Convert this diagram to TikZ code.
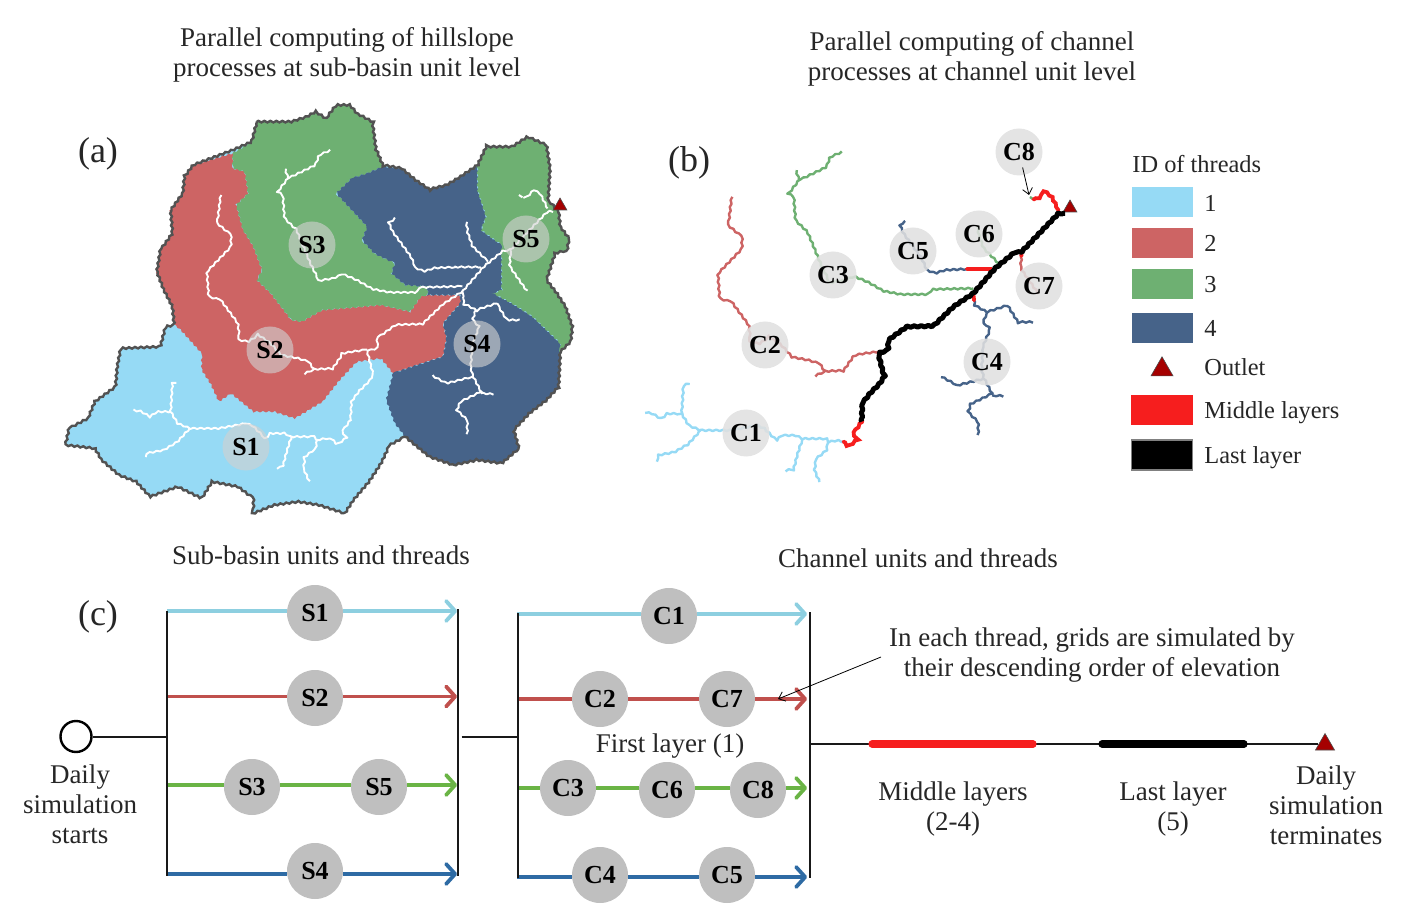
\documentclass[tikz,border=0pt]{standalone}
\usepackage{fontspec}
\setmainfont{Liberation Serif}
\usepackage{tikz}
\usetikzlibrary{shapes.geometric, arrows.meta, decorations.pathmorphing}
\definecolor{threadblue}{HTML}{96DAF5}
\definecolor{threadred}{HTML}{CD6464}
\definecolor{threadgreen}{HTML}{6EB072}
\definecolor{threadnavy}{HTML}{466389}
\definecolor{lineblue}{HTML}{8DCFE0}
\definecolor{linered}{HTML}{C0504D}
\definecolor{linegreen}{HTML}{6AB445}
\definecolor{linenavy}{HTML}{2E6BA4}
\definecolor{layerred}{HTML}{F61E1E}
\definecolor{outletred}{HTML}{A50000}
\tikzstyle{caption} = [font=\fontsize{13.5}{15}\selectfont, align=center, text=black!85]
\tikzstyle{keytext} = [font=\fontsize{12.2}{15}\selectfont, anchor=west, inner sep=0pt, text=black!85]
\tikzstyle{panel} = [font=\fontsize{18}{20}\selectfont, text=black!85]
\tikzstyle{swatch} = [minimum width=30.5pt, minimum height=15pt, inner sep=0pt]
\tikzstyle{mapunit} = [circle, minimum size=23.5pt, inner sep=0pt, fill=black!18, fill opacity=.62, text opacity=1, font=\fontsize{13}{15}\selectfont\bfseries]
\tikzstyle{chanunit} = [circle, minimum size=23.5pt, inner sep=0pt, fill=black!12, fill opacity=.88, text opacity=1, font=\fontsize{13}{15}\selectfont\bfseries]
\tikzstyle{unit} = [circle, minimum size=28pt, inner sep=0pt, fill=black!25, font=\fontsize{13}{15}\selectfont\bfseries]
\tikzstyle{outlet} = [regular polygon, regular polygon sides=3, inner sep=0pt, fill=outletred, draw=black!70, line width=.3pt]
\tikzstyle{thread} = [line width=1.9pt, -{Straight Barb[length=4.5pt,width=10pt,round]}]
\tikzstyle{bar} = [line width=1pt, black!90]
\tikzstyle{pointer} = [line width=.4pt, -{Straight Barb[length=3pt,width=5pt]}]
\tikzstyle{basin} = [x=.17241pt, y=-.16667pt]
\tikzstyle{rough} = [decorate, decoration={zigzag, segment length=3pt, amplitude=.4pt}]
\tikzstyle{jagged} = [decorate, decoration={zigzag, segment length=3.5pt, amplitude=.35pt}]
\tikzstyle{river} = [line width=.95pt, line join=round, jagged]
\tikzstyle{chanriver} = [line width=1.2pt, line join=round, jagged]
\newcommand{\riverlow}{(819,1049) -- (833,1064) -- (858,1044) -- (848,1024) -- (872,989)}
\newcommand{\rivermain}{(872,989) -- (874,934) -- (896,904) -- (925,874) -- (937,854) -- (920,784) -- (949,774) -- (949,744) -- (1003,704) -- (1080,702) -- (1138,644) -- (1196,604) -- (1259,529) -- (1312,484) -- (1336,479) -- (1443,364) -- (1462,364)}
\newcommand{\rivertop}{(1443,355) -- (1423,314) -- (1404,299) -- (1385,319) -- (1370,322)}
\newcommand{\riverone}{(819,1049) -- (800,1045) -- (775,1050) -- (770,1040) -- (700,1040) -- (680,1030) -- (640,1030) -- (625,1045) -- (590,1010) -- (570,1000) -- (490,1015) -- (405,1015) -- (370,1000) -- (350,965) -- (355,880) -- (370,875)
    (350,965) -- (310,965) -- (290,980) -- (265,965) -- (240,960)
    (405,1015) -- (370,1055) -- (330,1080) -- (280,1090) -- (280,1105)
    (700,1040) -- (685,1090) -- (675,1130) -- (655,1135)
    (775,1050) -- (770,1075) -- (740,1100) -- (735,1135) -- (750,1170)}
\newcommand{\rivertwo}{(920,779) -- (875,785) -- (850,790) -- (820,835) -- (765,838) -- (750,815) -- (720,805) -- (670,795) -- (640,760) -- (605,735) -- (575,755) -- (550,750) -- (545,700) -- (495,630) -- (460,620) -- (455,545) -- (525,470) -- (525,435) -- (485,400) -- (495,315)
    (765,838) -- (740,850)}
\newcommand{\riverthree}{(1196,589) -- (1075,592) -- (1065,607) -- (985,607) -- (935,597) -- (890,570) -- (850,553) -- (820,565) -- (780,572) -- (755,520) -- (715,420) -- (680,385) -- (675,315) -- (660,305) -- (690,265) -- (770,225) -- (780,195) -- (815,180)
    (690,265) -- (682,235)}
\newcommand{\riverfour}{(1198,625) -- (1200,640) -- (1235,660) -- (1295,640) -- (1325,690) -- (1365,690)
    (1235,660) -- (1225,690) -- (1245,710) -- (1225,760) -- (1220,830) -- (1225,855) -- (1250,905) -- (1190,935) -- (1180,960) -- (1210,990) -- (1210,1030)
    (1225,860) -- (1150,880) -- (1105,855)
    (1250,910) -- (1285,912)}
\newcommand{\riverfive}{(1177,531) -- (1114,534) -- (1085,544) -- (1061,534) -- (1046,499) -- (993,424) -- (983,399) -- (998,387)}
\newcommand{\riversix}{(1270,515) -- (1225,468) -- (1212,430) -- (1208,400)}
\newcommand{\riverseven}{(1336,479) -- (1333,529) -- (1370,584) -- (1385,605)}
\newcommand{\riverlink}{(1370,322) -- (1360,315)}

\begin{document}
\begin{tikzpicture}[x=.5pt, y=-.5pt]
    \useasboundingbox (0,0) rectangle (1406,908);
    \node[caption] (titlea) at (347,55) {Parallel computing of hillslope\\processes at sub-basin unit level};
    \node[caption] (titleb) at (972,59) {Parallel computing of channel\\processes at channel unit level};
    \node[caption] (titlec) at (321,555) {Sub-basin units and threads};
    \node[caption] (titled) at (918,558) {Channel units and threads};
    \node[panel] (pa) at (98,154) {(a)};
    \node[panel] (pb) at (689,163) {(b)};
    \node[panel] (pc) at (98,617) {(c)};

    \begin{scope}[shift={(50,90)}, basin]
        \fill[threadblue, rough] (600,95) -- (660,95) -- (700,95) -- (745,80) -- (770,65) -- (800,85) -- (830,45) -- (870,45) -- (890,70) -- (935,95) -- (945,175) -- (965,225) -- (1020,235) -- (1060,270) -- (1100,298) -- (1150,285) -- (1190,260) -- (1240,225) -- (1265,170) -- (1340,170) -- (1385,140) -- (1440,165) -- (1450,235) -- (1445,330) -- (1475,365) -- (1480,410) -- (1505,445) -- (1500,480) -- (1465,490) -- (1440,570) -- (1470,610) -- (1495,650) -- (1515,710) -- (1510,755) -- (1480,785) -- (1475,890) -- (1440,930) -- (1390,970) -- (1345,1020) -- (1360,1075) -- (1310,1120) -- (1240,1110) -- (1170,1125) -- (1100,1100) -- (1030,1040) -- (985,1065) -- (960,1120) -- (925,1175) -- (880,1230) -- (855,1270) -- (780,1245) -- (720,1235) -- (650,1245) -- (590,1270) -- (590,1225) -- (545,1190) -- (470,1175) -- (440,1225) -- (370,1190) -- (290,1220) -- (250,1175) -- (200,1155) -- (150,1110) -- (130,1075) -- (45,1065) -- (55,1015) -- (110,985) -- (130,935) -- (190,890) -- (195,830) -- (205,775) -- (320,770) -- (335,710) -- (360,705) -- (355,650) -- (330,600) -- (310,545) -- (320,480) -- (355,430) -- (350,360) -- (385,310) -- (390,260) -- (415,225) -- (530,180) -- (585,155) -- cycle;
        \fill[threadred, rough] (530,190) -- (415,225) -- (390,260) -- (385,310) -- (350,360) -- (355,430) -- (320,480) -- (310,545) -- (330,600) -- (355,650) -- (360,705) -- (375,715) -- (440,790) -- (440,840) -- (465,880) -- (490,935) -- (525,910) -- (590,965) -- (650,965) -- (710,985) -- (790,935) -- (840,870) -- (890,815) -- (960,805) -- (995,850) -- (1050,830) -- (1140,800) -- (1150,745) -- (1140,700) -- (1190,640) -- (1190,615) -- (1095,615) -- (1075,620) -- (1045,665) -- (960,645) -- (850,655) -- (790,660) -- (730,695) -- (700,690) -- (640,610) -- (600,570) -- (615,540) -- (590,470) -- (560,420) -- (540,345) -- (575,310) -- (565,245) -- (530,235) -- cycle;
        \fill[threadgreen, rough] (530,190) -- (585,155) -- (600,95) -- (660,95) -- (700,95) -- (745,80) -- (770,65) -- (800,85) -- (830,45) -- (870,45) -- (890,70) -- (935,95) -- (945,175) -- (965,230) -- (920,250) -- (875,265) -- (830,310) -- (875,360) -- (920,410) -- (905,450) -- (940,490) -- (1000,520) -- (990,550) -- (1030,585) -- (1095,590) -- (1095,615) -- (1075,620) -- (1045,665) -- (960,645) -- (850,655) -- (790,660) -- (730,695) -- (700,690) -- (640,610) -- (600,570) -- (615,540) -- (590,470) -- (560,420) -- (540,345) -- (575,310) -- (565,245) -- (530,235) -- cycle;
        \fill[threadnavy, rough] (965,230) -- (1020,235) -- (1060,270) -- (1100,298) -- (1150,285) -- (1190,260) -- (1240,225) -- (1240,300) -- (1265,380) -- (1250,420) -- (1310,465) -- (1310,600) -- (1285,610) -- (1340,640) -- (1400,680) -- (1450,730) -- (1480,760) -- (1480,785) -- (1475,890) -- (1440,930) -- (1390,970) -- (1345,1020) -- (1360,1075) -- (1310,1120) -- (1240,1110) -- (1170,1125) -- (1100,1100) -- (1030,1040) -- (1000,1000) -- (975,930) -- (995,850) -- (1050,830) -- (1140,800) -- (1150,745) -- (1140,700) -- (1190,640) -- (1190,615) -- (1095,615) -- (1095,590) -- (1030,585) -- (990,550) -- (1000,520) -- (940,490) -- (905,450) -- (920,410) -- (875,360) -- (830,310) -- (875,265) -- (920,250) -- cycle;
        \fill[threadgreen, rough] (1240,225) -- (1265,170) -- (1340,170) -- (1385,140) -- (1440,165) -- (1450,235) -- (1445,330) -- (1475,365) -- (1480,410) -- (1505,445) -- (1500,480) -- (1465,490) -- (1440,570) -- (1470,610) -- (1495,650) -- (1515,710) -- (1510,755) -- (1480,785) -- (1480,760) -- (1450,730) -- (1400,680) -- (1340,640) -- (1285,610) -- (1310,600) -- (1310,465) -- (1250,420) -- (1265,380) -- (1240,300) -- cycle;
        \draw[black!68, line width=1.2pt, rough] (600,95) -- (660,95) -- (700,95) -- (745,80) -- (770,65) -- (800,85) -- (830,45) -- (870,45) -- (890,70) -- (935,95) -- (945,175) -- (965,225) -- (1020,235) -- (1060,270) -- (1100,298) -- (1150,285) -- (1190,260) -- (1240,225) -- (1265,170) -- (1340,170) -- (1385,140) -- (1440,165) -- (1450,235) -- (1445,330) -- (1475,365) -- (1480,410) -- (1505,445) -- (1500,480) -- (1465,490) -- (1440,570) -- (1470,610) -- (1495,650) -- (1515,710) -- (1510,755) -- (1480,785) -- (1475,890) -- (1440,930) -- (1390,970) -- (1345,1020) -- (1360,1075) -- (1310,1120) -- (1240,1110) -- (1170,1125) -- (1100,1100) -- (1030,1040) -- (985,1065) -- (960,1120) -- (925,1175) -- (880,1230) -- (855,1270) -- (780,1245) -- (720,1235) -- (650,1245) -- (590,1270) -- (590,1225) -- (545,1190) -- (470,1175) -- (440,1225) -- (370,1190) -- (290,1220) -- (250,1175) -- (200,1155) -- (150,1110) -- (130,1075) -- (45,1065) -- (55,1015) -- (110,985) -- (130,935) -- (190,890) -- (195,830) -- (205,775) -- (320,770) -- (335,710) -- (360,705) -- (355,650) -- (330,600) -- (310,545) -- (320,480) -- (355,430) -- (350,360) -- (385,310) -- (390,260) -- (415,225) -- (530,180) -- (585,155) -- cycle;
        \draw[river, white] \riverlow \rivermain \rivertop \riverone \rivertwo \riverthree \riverfour \riverfive \riversix \riverseven \riverlink;
        \draw[river, white] (1249,531) -- (1177,531) (1196,604) -- (1198,625);
    \end{scope}
    \node[outlet, minimum size=8pt] (outa) at (560,206) {};
    \node[mapunit] (a1) at (246,447) {S1};
    \node[mapunit] (a2) at (270,350) {S2};
    \node[mapunit] (a3) at (312,245) {S3};
    \node[mapunit] (a4) at (477,344) {S4};
    \node[mapunit] (a5) at (526,239) {S5};

    \node[outlet, minimum size=8pt] (outb) at (1070,208) {};
    \begin{scope}[shift={(561,92)}, basin]
        \draw[chanriver, threadblue] \riverone;
        \draw[chanriver, threadred] \rivertwo \riverseven;
        \draw[chanriver, threadgreen] \riverthree \riversix \riverlink;
        \draw[chanriver, threadnavy] \riverfour \riverfive;
        \draw[jagged, line width=1.9pt, layerred, line cap=round] \riverlow \rivertop;
        \draw[line width=1.9pt, layerred, line cap=round] (1177,531) -- (1249,531) (1196,608) -- (1198,625) (1336,479) -- (1335,492);
        \draw[jagged, line width=2.5pt, black, line join=round] \rivermain;
    \end{scope}
    \node[chanunit] (b1) at (746,433) {C1};
    \node[chanunit] (b2) at (765,345) {C2};
    \node[chanunit] (b3) at (833,275) {C3};
    \node[chanunit] (b4) at (987,362) {C4};
    \node[chanunit] (b5) at (913,251) {C5};
    \node[chanunit] (b6) at (979,234) {C6};
    \node[chanunit] (b7) at (1039,286) {C7};
    \node[chanunit] (b8) at (1019,152) {C8};
    \coordinate (b8tip) at (1029,195);
    \draw[pointer, shorten <=-4pt] (b8) -- (b8tip);

    \node[keytext] (legend) at (1132,164) {ID of threads};
    \node[swatch, fill=threadblue] (k1) at (1162.5,202.5) {};
    \node[swatch, fill=threadred] (k2) at (1162.5,243) {};
    \node[swatch, fill=threadgreen] (k3) at (1162.5,284.5) {};
    \node[swatch, fill=threadnavy] (k4) at (1162.5,328) {};
    \node[outlet, minimum size=12.7pt] (k5) at (1162,369.5) {};
    \node[swatch, fill=layerred, minimum width=31pt] (k6) at (1162,410.5) {};
    \node[swatch, fill=black, draw=black!50, line width=.6pt] (k7) at (1162,455) {};
    \node[keytext] (t1) at (1204,203) {1};
    \node[keytext] (t2) at (1204,243) {2};
    \node[keytext] (t3) at (1204,285) {3};
    \node[keytext] (t4) at (1204,328) {4};
    \node[keytext] (t5) at (1204,367) {Outlet};
    \node[keytext] (t6) at (1204,413) {Middle layers};
    \node[keytext] (t7) at (1204,458) {Last layer};

    \node[unit] (s1) at (315,613) {S1};
    \node[unit] (s2) at (315,698) {S2};
    \node[unit] (s3) at (252,787) {S3};
    \node[unit] (s5) at (379,787) {S5};
    \node[unit] (s4) at (315,871) {S4};
    \node[unit] (c1) at (669,616) {C1};
    \node[unit] (c2) at (600,699) {C2};
    \node[unit] (c7) at (727,699) {C7};
    \node[unit] (c3) at (568,788) {C3};
    \node[unit] (c6) at (667,790) {C6};
    \node[unit] (c8) at (758,790) {C8};
    \node[unit] (c4) at (600,875) {C4};
    \node[unit] (c5) at (727,875) {C5};
    \coordinate (sl1) at (167,611);
    \coordinate (sl2) at (167,696.5);
    \coordinate (sl3) at (167,785);
    \coordinate (sl4) at (167,874);
    \coordinate (sr1) at (457,611);
    \coordinate (sr2) at (457,696.5);
    \coordinate (sr3) at (457,785);
    \coordinate (sr4) at (457,874);
    \coordinate (cl1) at (517,614);
    \coordinate (cl2) at (517,699);
    \coordinate (cl3) at (517,788);
    \coordinate (cl4) at (517,877);
    \coordinate (cr1) at (807,614);
    \coordinate (cr2) at (807,699);
    \coordinate (cr3) at (807,788);
    \coordinate (cr4) at (807,877);
    \draw[thread, lineblue] (sl1) -- (s1.west |- sl1) (s1.east |- sl1) -- (sr1);
    \draw[thread, linered] (sl2) -- (s2.west |- sl2) (s2.east |- sl2) -- (sr2);
    \draw[thread, linegreen] (sl3) -- (s3.west |- sl3) (s3.east |- sl3) -- (s5.west |- sl3) (s5.east |- sl3) -- (sr3);
    \draw[thread, linenavy] (sl4) -- (s4.west |- sl4) (s4.east |- sl4) -- (sr4);
    \draw[thread, lineblue] (cl1) -- (c1.west |- cl1) (c1.east |- cl1) -- (cr1);
    \draw[thread, linered] (cl2) -- (c2.west |- cl2) (c2.east |- cl2) -- (c7.west |- cl2) (c7.east |- cl2) -- (cr2);
    \draw[thread, linegreen] (cl3) -- (c3.west |- cl3) (c3.east |- cl3) -- (c6.west |- cl3) (c6.east |- cl3) -- (c8.west |- cl3) (c8.east |- cl3) -- (cr3);
    \draw[thread, linenavy] (cl4) -- (c4.west |- cl4) (c4.east |- cl4) -- (c5.west |- cl4) (c5.east |- cl4) -- (cr4);

    \coordinate (stop1) at (167,611);
    \coordinate (sbot1) at (167,876);
    \coordinate (stop2) at (457.5,609);
    \coordinate (sbot2) at (457.5,876);
    \coordinate (ctop1) at (517.5,613);
    \coordinate (cbot1) at (517.5,878);
    \coordinate (ctop2) at (810,612);
    \coordinate (cbot2) at (810,878);
    \draw[bar] (stop1) -- (sbot1);
    \draw[bar] (stop2) -- (sbot2);
    \draw[bar] (ctop1) -- (cbot1);
    \draw[bar] (ctop2) -- (cbot2);

    \node[circle, draw, line width=1.2pt, minimum size=15.5pt, inner sep=0pt] (start) at (76,736.5) {};
    \coordinate (sjoin) at (167,736.5);
    \coordinate (gapl) at (461.5,736.5);
    \coordinate (gapr) at (517.5,736.5);
    \coordinate (layer0) at (810,744);
    \coordinate (layer1) at (872,744);
    \coordinate (layer2) at (1033,744);
    \coordinate (layer3) at (1102,744);
    \coordinate (layer4) at (1244,744);
    \node[outlet, minimum size=11pt] (end) at (1325,744.5) {};
    \draw[bar] (start) -- (sjoin);
    \draw[bar] (gapl) -- (gapr);
    \draw[bar, line width=.8pt] (layer0) -- (layer1) -- (layer2) -- (layer3) -- (layer4) -- (end.west |- layer4);
    \draw[line width=3.6pt, layerred, line cap=round] (layer1) -- (layer2);
    \draw[line width=3.6pt, black, line cap=round] (layer3) -- (layer4);

    \node[caption] (first) at (670,746) {First layer (1)};
    \node[caption] (begin) at (80,804) {Daily\\simulation\\starts};
    \node[caption] (midl) at (953,809) {Middle layers\\(2-4)};
    \node[caption] (lastl) at (1173,809) {Last layer\\(5)};
    \node[caption] (finish) at (1326,805) {Daily\\simulation\\terminates};
    \node[caption] (note) at (1092,655) {In each thread, grids are simulated by\\their descending order of elevation};
    \coordinate (notefrom) at (881,657);
    \coordinate (noteto) at (778,699);
    \draw[pointer] (notefrom) -- (noteto);
\end{tikzpicture}
\end{document}
